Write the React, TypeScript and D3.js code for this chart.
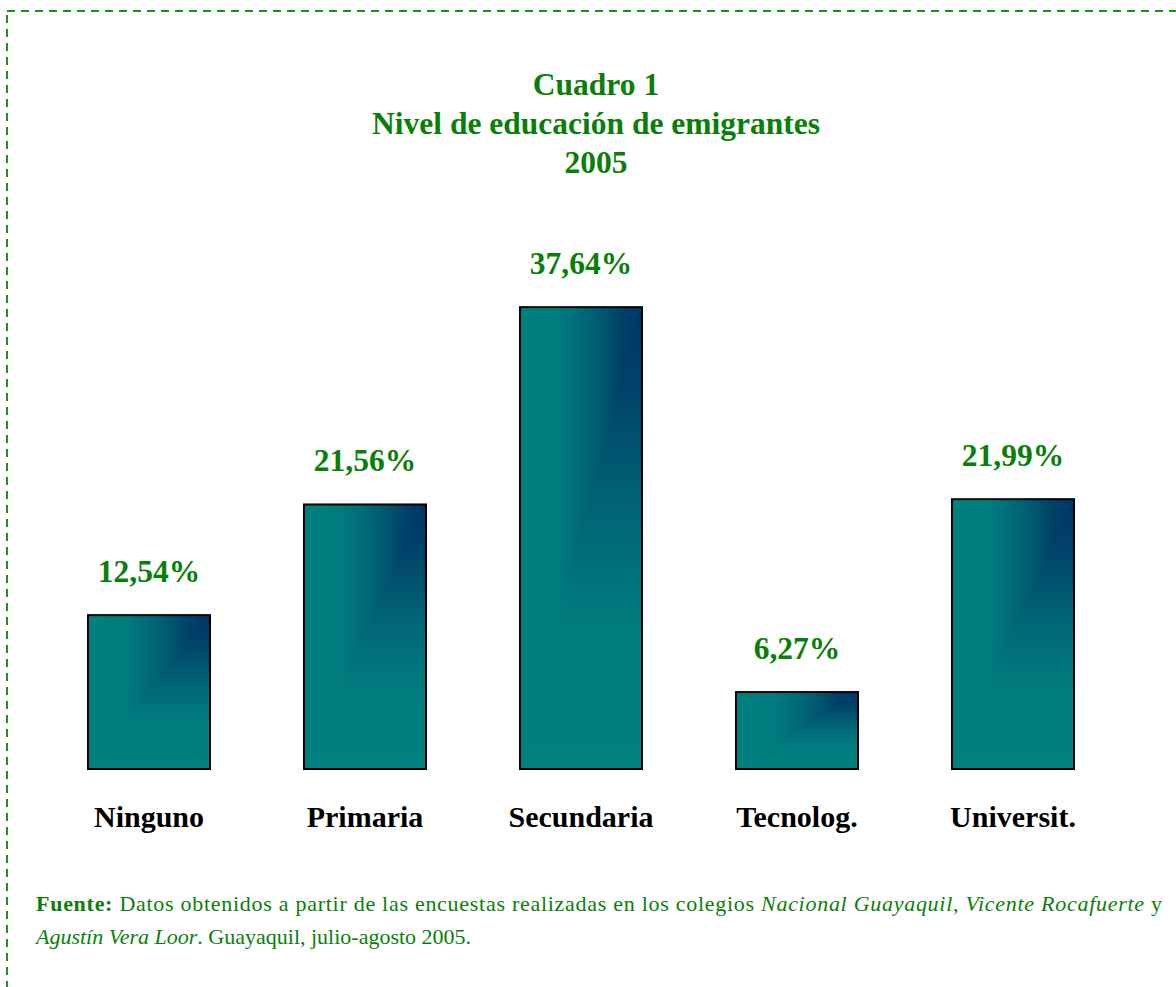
import React from "react";
import * as d3 from "d3";

const categories = ["Ninguno", "Primaria", "Secundaria", "Tecnolog.", "Universit."];
const values = [12.54, 21.56, 37.64, 6.27, 21.99];
const valueLabels = ["12,54%", "21,56%", "37,64%", "6,27%", "21,99%"];
const titleLines = ["Cuadro 1", "Nivel de educación de emigrantes", "2005"];

const W = 1176;
const H = 987;
const GREEN = "#088008";
const FONT = "'Liberation Serif', 'Times New Roman', serif";

const stops = [
  { o: 0, c: "#008080" },
  { o: 0.3, c: "#007c7e" },
  { o: 0.55, c: "#006676" },
  { o: 0.8, c: "#00456a" },
  { o: 1, c: "#003366" },
];

export default function App() {
  const x = d3
    .scaleBand<string>()
    .domain(categories)
    .range([41, 1121])
    .paddingInner(0.435)
    .paddingOuter(0.2175);
  const y = d3.scaleLinear().domain([0, 40]).range([769, 278.2]);

  return (
    <svg
      width={W}
      height={H}
      style={{ position: "absolute", left: 0, top: 0, background: "#fff" }}
      fontFamily={FONT}
    >
      <defs>
        <linearGradient id="gh" x1="0" y1="0" x2="1" y2="0">
          {stops.map((s) => (
            <stop key={s.o} offset={s.o} stopColor={s.c} />
          ))}
        </linearGradient>
        <linearGradient id="gv" x1="0" y1="1" x2="0" y2="0">
          {stops.map((s) => (
            <stop key={s.o} offset={s.o} stopColor={s.c} />
          ))}
        </linearGradient>
      </defs>
      <rect
        x={7}
        y={11}
        width={1300}
        height={1100}
        fill="none"
        stroke="#1a961a"
        strokeWidth={2}
        strokeDasharray="8,6"
      />
      {titleLines.map((t, i) => (
        <text
          key={t}
          x={596}
          y={95 + i * 39}
          textAnchor="middle"
          fontSize={31.5}
          fontWeight="bold"
          fill={GREEN}
        >
          {t}
        </text>
      ))}
      {categories.map((c, i) => {
        const bx = x(c)!;
        const bw = x.bandwidth();
        const top = y(values[i]);
        const bh = y(0) - top;
        return (
          <g key={c}>
            <rect x={bx} y={top} width={bw} height={bh} fill="url(#gh)" />
            <polygon
              points={`${bx + bw},${top} ${bx + bw},${top + bh} ${bx},${top + bh}`}
              fill="url(#gv)"
            />
            <rect
              x={bx}
              y={top}
              width={bw}
              height={bh}
              fill="none"
              stroke="#000"
              strokeWidth={2}
            />
            <text
              x={bx + bw / 2}
              y={top - 33}
              textAnchor="middle"
              fontSize={31.5}
              fontWeight="bold"
              fill={GREEN}
            >
              {valueLabels[i]}
            </text>
            <text
              x={bx + bw / 2}
              y={827}
              textAnchor="middle"
              fontSize={30}
              fontWeight="bold"
              fill="#000"
            >
              {c}
            </text>
          </g>
        );
      })}
      <text x={36} y={911} fontSize={22} fill={GREEN} textLength={1126} lengthAdjust="spacing">
        <tspan fontWeight="bold">Fuente:</tspan>
        <tspan> Datos obtenidos a partir de las encuestas realizadas en los colegios </tspan>
        <tspan fontStyle="italic">Nacional Guayaquil</tspan>
        <tspan>, </tspan>
        <tspan fontStyle="italic">Vicente Rocafuerte</tspan>
        <tspan> y</tspan>
      </text>
      <text x={36} y={944} fontSize={22} fill={GREEN}>
        <tspan fontStyle="italic">Agustín Vera Loor</tspan>
        <tspan>. Guayaquil, julio-agosto 2005.</tspan>
      </text>
    </svg>
  );
}
